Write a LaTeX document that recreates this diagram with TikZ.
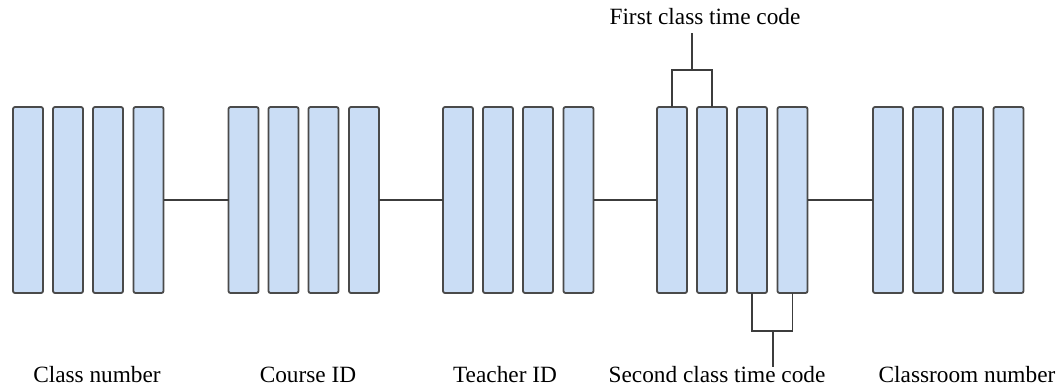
\documentclass[tikz,border=0pt]{standalone}
\usepackage{fontspec}
\setmainfont{Liberation Serif}
\definecolor{cellfill}{HTML}{CADDF5}
\definecolor{cellline}{HTML}{4A4A4A}
\definecolor{wirecol}{HTML}{3C3C3C}
\begin{document}
\begin{tikzpicture}[x=1pt,y=-1pt,
  cell/.style={draw=cellline, fill=cellfill, line width=1.8pt, rounded corners=2pt,
    minimum width=30pt, minimum height=186pt, inner sep=0pt, outer sep=0pt, anchor=north west},
  wire/.style={draw=wirecol, line width=1.5pt},
  caption/.style={font=\fontsize{23.3}{28}\selectfont, inner sep=0pt, anchor=base}]
\useasboundingbox (0,0) rectangle (1061,388);

% five fields of four digit cells each
\foreach \g/\x in {1/13,2/228.5,3/443,4/657,5/873}{
  \foreach \i/\dx in {1/0,2/40,3/80,4/120.5}{
    \node[cell] (g\g-\i) at (\x+\dx,107) {};
  }
}

% links between neighbouring fields
\draw[wire] (g1-4.east) -- (g2-1.west);
\draw[wire] (g2-4.east) -- (g3-1.west);
\draw[wire] (g3-4.east) -- (g4-1.west);
\draw[wire] (g4-4.east) -- (g5-1.west);

% field captions
\node[caption] (cap1) at (97,382) {Class number};
\node[caption] (cap2) at (308,382) {Course ID};
\node[caption] (cap3) at (505,382) {Teacher ID};
\node[caption] (cap4) at (717,382) {Second class time code};
\node[caption] (cap5) at (967,382) {Classroom number};
\node[caption] (captop) at (705,24) {First class time code};

% bracket over the first two time cells
\coordinate (topj) at (692,70);
\coordinate (topend) at (692,33);
\draw[wire] (g4-1.north) |- (topj) -| (g4-2.north);
\draw[wire] (topj) -- (topend);

% bracket under the last two time cells
\coordinate (botj) at (773,331);
\coordinate (botend) at (773,367);
\draw[wire] (g4-3.south) |- (botj) -| (g4-4.south);
\draw[wire] (botj) -- (botend);
\end{tikzpicture}
\end{document}
